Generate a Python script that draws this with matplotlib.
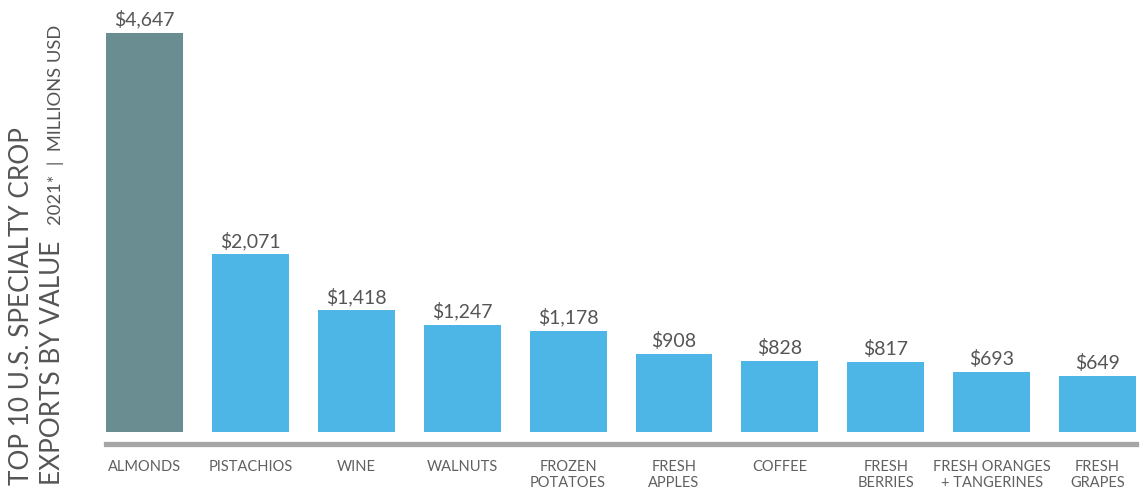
import matplotlib
matplotlib.use("Agg")
import matplotlib.pyplot as plt

categories = ["ALMONDS", "PISTACHIOS", "WINE", "WALNUTS", "FROZEN\nPOTATOES",
              "FRESH\nAPPLES", "COFFEE", "FRESH\nBERRIES",
              "FRESH ORANGES\n+ TANGERINES", "FRESH\nGRAPES"]
values = [4647, 2071, 1418, 1247, 1178, 908, 828, 817, 693, 649]
value_labels = ["$4,647", "$2,071", "$1,418", "$1,247", "$1,178", "$908",
                "$828", "$817", "$693", "$649"]
colors = ["#6a8d92"] + ["#4db6e6"] * 9

plt.rcParams['font.family'] = ['Lato', 'DejaVu Sans']

fig = plt.figure(figsize=(11.45, 4.95), dpi=100)
ax = fig.add_axes([0.0926, 0.1273, 0.8996, 0.8727])
x = list(range(len(values)))
ax.bar(x, values, width=0.727, color=colors)
ax.set_xlim(-0.3635, 9.3635)
ax.set_ylim(0, 5031)
for s in ax.spines.values():
    s.set_visible(False)
ax.set_yticks([])
ax.set_xticks([])

for xi, v, lab in zip(x, values, value_labels):
    ax.annotate(lab, (xi, v), xytext=(0, 3), textcoords="offset points",
                ha="center", va="bottom", fontsize=14, color="#555555")

# baseline
ax.axhline(-135, color="#a6a6a6", lw=3.8, clip_on=False)

for xi, c in zip(x, categories):
    ax.annotate(c, (xi, 0), xytext=(0, -20), textcoords="offset points",
                ha="center", va="top", fontsize=10.5, color="#606060",
                linespacing=1.2)

fig.text(22 / 1145, 0.02, "TOP 10 U.S. SPECIALTY CROP",
         rotation=90, ha="center", va="bottom", fontsize=18.8, color="#555555")
fig.text(52 / 1145, 0.02, "EXPORTS BY VALUE",
         rotation=90, ha="center", va="bottom", fontsize=18.8, color="#555555")
fig.text(56 / 1145, 0.545, "2021*  |  MILLIONS USD", rotation=90, ha="center",
         va="bottom", fontsize=13.2, color="#555555")

fig.savefig("out.png", dpi=100)
